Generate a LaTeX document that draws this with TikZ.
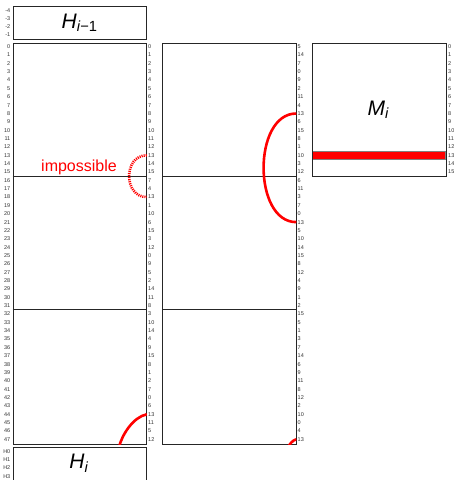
\documentclass[tikz,border=0pt]{standalone}
\usepackage{fontspec}
\setmainfont{Liberation Sans}
\begin{document}
\begin{tikzpicture}[x=1pt,y=-1pt]
% Define styles
\tikzset{
    blk/.style={draw=black!85, line width=0.8pt, inner sep=0pt, anchor=north west, minimum width=133.5pt},
    num/.style={font=\fontsize{5.5}{6}\selectfont, text=black!80, inner sep=0.5pt},
    big/.style={font=\fontsize{21}{24}\selectfont},
    swap/.style={draw=red, line width=2.6pt},
    nope/.style={draw=red, line width=2.6pt, dash pattern=on 1.1pt off 1pt}
}
\useasboundingbox (0,0) rectangle (454,480);

% Previous hash block
\node[blk, minimum height=33pt] (hprev) at (12.5,6) {};
\node[big] (hprevlabel) at (hprev.center) {\textit{H}\textsubscript{\textit{i}−1}};
\foreach \k/\label in {0/-4, 1/-3, 2/-2, 3/-1} {
    \node[num, anchor=east] (P\k) at (11, {6+(\k+0.5)*8.25}) {\label};
}

% Message schedule columns
\foreach \name/\x in {colA/12.5, colB/162} {
    \node[blk, minimum height=401pt] (\name) at (\x,42.5) {};
    \foreach \k in {16,32} {
        \draw[blk] (\x, {42.5+\k*8.354}) -- ++(133.5,0);
    }
}

% Row numbers on the left
\foreach \r in {0,...,47} {
    \node[num, anchor=east] (L\r) at (11, {42.5+(\r+0.5)*8.354}) {\r};
}

% Word indices of the first column
\foreach \v [count=\r from 0] in {0,1,2,3,4,5,6,7,8,9,10,11,12,13,14,15,
    7,4,13,1,10,6,15,3,12,0,9,5,2,14,11,8,
    3,10,14,4,9,15,8,1,2,7,0,6,13,11,5,12} {
    \node[num, anchor=west] (RA\r) at (147.5, {42.5+(\r+0.5)*8.354}) {\v};
}

% Word indices of the second column
\foreach \v [count=\r from 0] in {5,14,7,0,9,2,11,4,13,6,15,8,1,10,3,12,
    6,11,3,7,0,13,5,10,14,15,8,12,4,9,1,2,
    15,5,1,3,7,14,6,9,11,8,12,2,10,0,4,13} {
    \node[num, anchor=west] (RB\r) at (297, {42.5+(\r+0.5)*8.354}) {\v};
}

% Message block
\draw[draw=black!50, fill=red] (312, {42.5+13*8.354}) rectangle ++(133.5, 8.354);
\node[blk, minimum height=133.66pt] (colM) at (312,42.5) {};
\node[big] (mlabel) at (378.5,110) {\textit{M}\textsubscript{\textit{i}}};
\foreach \r in {0,...,15} {
    \node[num, anchor=west] (RM\r) at (447.5, {42.5+(\r+0.5)*8.354}) {\r};
}

% Next hash block
\node[blk, minimum height=40pt] (hnext) at (12.5,447) {};
\node[big] (hnextlabel) at (79,463.5) {\textit{H}\textsubscript{\textit{i}}};
\foreach \k in {0,...,3} {
    \node[num, anchor=east] (N\k) at (11, {447+(\k+0.5)*8.354}) {H\k};
}

% Word 13 links
\node[text=red, font=\fontsize{16}{18}\selectfont] (imp) at (79,167.5) {impossible};
\draw[nope] (colA.east |- RA13) to[out=180, in=180, looseness=1.45] (colA.east |- RA18);
\draw[swap] (colB.east |- RB8) to[out=180, in=180, looseness=1.03] (colB.east |- RB21);

\coordinate (tailA) at (119,447);
\coordinate (tailB) at (288,447);
\begin{scope}
    \clip (colA.north west) rectangle (colA.south east);
    \draw[swap] (colA.east |- RA44) .. controls +(-14,3) and +(3,-12) .. (tailA);
\end{scope}
\begin{scope}
    \clip (colB.north west) rectangle (colB.south east);
    \draw[swap] (colB.east |- RB47) .. controls +(-4,1) and +(2,-3) .. (tailB);
\end{scope}

\end{tikzpicture}
\end{document}
